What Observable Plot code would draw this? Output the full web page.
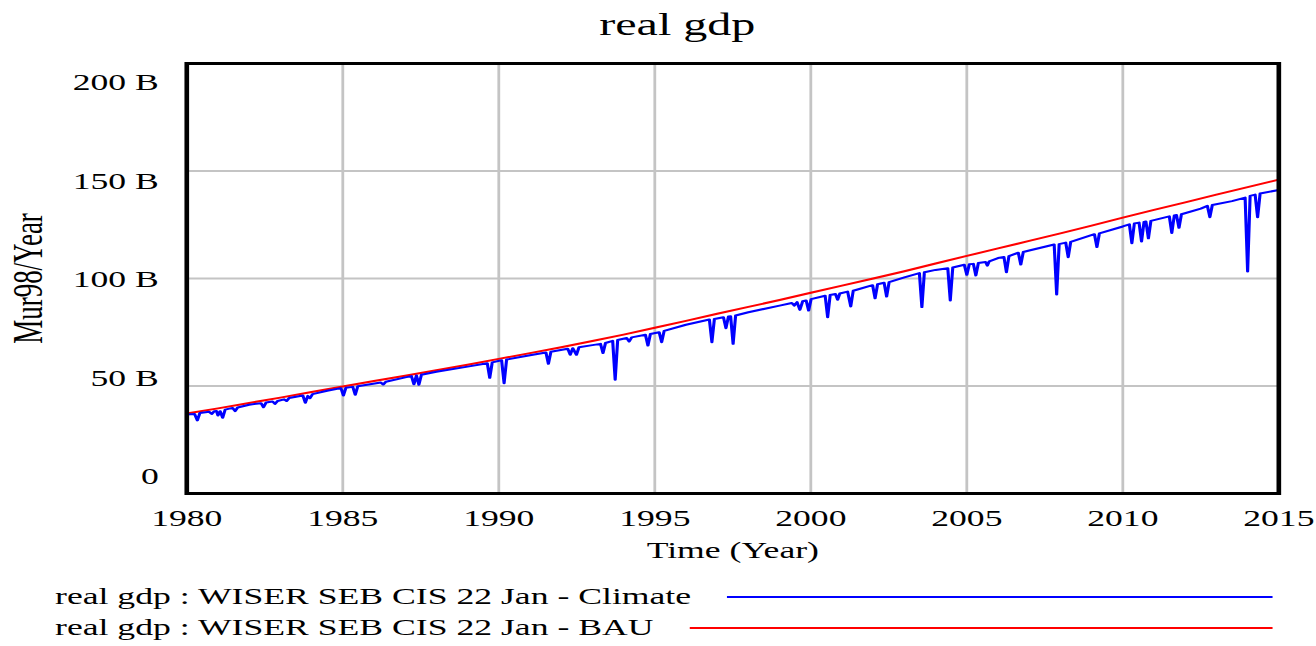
<!DOCTYPE html>
<html><head><meta charset="utf-8">
<script src="https://cdn.jsdelivr.net/npm/d3@7"></script>
<script src="https://cdn.jsdelivr.net/npm/@observablehq/plot@0.6"></script>
<style>
body{margin:0;background:#fff;width:1316px;height:646px;overflow:hidden;font-family:"Liberation Serif","Times New Roman",serif;color:#000}
#title{height:50px;width:849px;transform:scaleX(1.55);transform-origin:0 0;text-align:center;font-size:31px;line-height:50px;padding-left:25px;box-sizing:border-box}
#chart{height:525px;width:1316px}
#legend{width:849px;transform:scaleX(1.55);transform-origin:0 0;padding:6px 28px 0 35.5px;box-sizing:border-box}
.row{display:flex;align-items:center;height:31px;font-size:23px;white-space:nowrap}
.sw{flex:1;height:2px;margin-left:23px}
</style></head>
<body>
<div id="title"></div>
<div id="chart"></div>
<div id="legend"></div>
<script>
const titleText = "real gdp";
const xLabel = "Time (Year)";
const yLabel = "Mur98/Year";
const xTicks = [1980, 1985, 1990, 1995, 2000, 2005, 2010, 2015];
const yTicks = [0, 50, 100, 150, 200];
const yTickLabels = ["0", "50 B", "100 B", "150 B", "200 B"];
const seriesNames = ["real gdp : WISER SEB CIS 22 Jan - Climate", "real gdp : WISER SEB CIS 22 Jan - BAU"];
const seriesColors = ["#0000ff", "#ff0000"];

// BAU (red), annual readings, Mur98/Year (billions)
const bauYears = [1980,1981,1982,1983,1984,1985,1986,1987,1988,1989,1990,1991,1992,1993,1994,1995,1996,1997,1998,1999,2000,2001,2002,2003,2004,2005,2006,2007,2008,2009,2010,2011,2012,2013,2014,2015];
const bauValues = [37.2,39.6,42.1,44.6,47.2,49.8,52.3,54.8,57.3,59.9,62.6,65.3,68.0,70.9,73.9,77.1,80.3,83.6,86.8,90.0,93.4,96.7,100.0,103.4,107.0,110.5,114.0,117.5,121.0,124.6,128.3,131.9,135.4,139.0,142.5,146.0];

// Climate (blue), readings incl. shock dips
const climateTimes = [
1980.00,1980.25,1980.34,1980.42,1980.72,1980.80,1980.88,1980.95,1981.00,1981.07,1981.15,1981.23,
1981.47,1981.55,1981.63,1982.00,1982.38,1982.46,1982.54,1982.75,1982.83,1982.91,1983.12,1983.20,1983.28,
1983.72,1983.80,1983.88,1983.95,1984.03,1984.50,1984.94,1985.02,1985.10,1985.32,1985.40,1985.48,
1986.22,1986.30,1986.38,1987.00,1987.20,1987.28,1987.36,1987.44,1987.52,1988.00,1989.00,
1989.63,1989.71,1989.79,1990.09,1990.17,1990.25,1991.00,1991.51,1991.59,1991.67,
1992.21,1992.29,1992.37,1992.49,1992.57,1993.00,1993.26,1993.34,1993.42,1993.65,1993.73,1993.81,
1994.10,1994.18,1994.26,1994.70,1994.78,1994.86,1995.14,1995.22,1995.30,1996.00,
1996.75,1996.83,1996.91,1997.20,1997.28,1997.36,1997.43,1997.51,1997.59,1998.00,1999.00,
1999.39,1999.47,1999.56,1999.65,1999.74,1999.85,1999.93,2000.01,
2000.46,2000.54,2000.62,2000.79,2000.86,2000.93,2001.18,2001.28,2001.36,
2001.98,2002.06,2002.14,2002.35,2002.43,2002.51,2003.00,
2003.48,2003.56,2003.64,2004.00,2004.39,2004.47,2004.55,
2004.92,2005.00,2005.08,2005.21,2005.29,2005.37,2005.60,2005.66,2005.72,
2006.00,2006.19,2006.27,2006.35,2006.65,2006.73,2006.81,2007.00,
2007.80,2007.88,2007.96,2008.17,2008.25,2008.33,2009.09,2009.17,2009.25,
2010.00,2010.21,2010.29,2010.37,2010.52,2010.60,2010.68,2010.74,2010.82,2010.90,
2011.49,2011.57,2011.65,2011.72,2011.80,2011.88,2012.50,2012.71,2012.79,2012.87,
2013.50,2013.92,2014.00,2014.08,2014.24,2014.32,2014.40,2015.00];
const climateValues = [
36.8,37.0,34.0,37.4,38.0,37.0,38.3,38.4,36.3,38.3,35.2,39.0,
39.8,38.3,40.0,41.3,42.0,40.1,42.3,42.8,41.7,43.0,43.8,43.0,44.4,
45.6,42.2,45.4,44.3,46.2,47.8,49.0,45.6,49.2,49.6,45.9,49.9,
51.6,50.7,52.0,54.0,54.6,50.8,54.9,50.6,55.2,56.6,59.0,
60.6,53.8,61.0,62.0,51.3,62.3,64.3,65.6,60.3,65.9,
67.3,64.5,67.6,64.5,68.0,69.0,69.6,65.3,70.0,71.0,52.9,71.4,
72.3,70.7,72.6,73.8,68.8,74.2,75.0,70.4,75.6,78.5,
80.9,70.4,81.2,82.0,76.9,82.3,82.4,69.6,82.8,84.3,87.4,
88.6,87.4,89.0,85.4,89.4,89.8,85.1,90.4,
92.0,82.0,92.3,92.8,90.1,93.0,93.9,87.0,94.3,
96.9,90.8,97.3,98.0,91.6,98.3,100.5,
102.5,86.7,102.9,104.0,104.8,89.8,105.1,
106.4,101.7,106.6,106.8,101.4,107.2,107.7,106.0,108.0,
109.5,110.0,102.9,110.4,112.0,106.5,112.3,113.0,
115.8,92.6,116.0,116.7,109.9,117.0,120.6,114.6,121.0,
124.2,125.2,116.4,125.6,126.0,117.2,126.3,126.5,118.7,126.8,
128.9,121.2,129.3,129.5,123.6,129.9,132.5,133.8,128.5,134.2,
136.0,137.6,103.3,138.4,139.0,128.5,139.5,141.2];

const bau = bauYears.map((t, i) => ({t, v: bauValues[i]}));
const climate = climateTimes.map((t, i) => ({t, v: climateValues[i]}));

const S = 1.55;               // horizontal stretch of the original picture
const W = Math.round(1316 / S), H = 525;

document.getElementById("title").textContent = titleText;

const plot = Plot.plot({
  width: W, height: H,
  marginTop: 13, marginBottom: 82, marginLeft: 120, marginRight: W - 1278 / S,
  x: {domain: [1980, 2015], axis: null},
  y: {domain: [0, 200], axis: null},
  style: {fontFamily: "Liberation Serif, Times New Roman, serif", fontSize: "23px", color: "#000", background: "#fff", overflow: "visible"},
  marks: [
    Plot.gridX(xTicks, {stroke: "#c4c4c4", strokeOpacity: 1, strokeWidth: 1.8}),
    Plot.gridY(yTicks, {stroke: "#c4c4c4", strokeOpacity: 1, strokeWidth: 2}),
    Plot.line(bau, {x: "t", y: "v", stroke: seriesColors[1], strokeWidth: 2}),
    Plot.line(climate, {x: "t", y: "v", stroke: seriesColors[0], strokeWidth: 2}),
    Plot.frame({stroke: "#000", strokeWidth: 3}),
    ...yTicks.map((v, i) => Plot.text([v], {
      y: d => d, frameAnchor: "left", dx: -18, dy: -16.5 + 36 * v / 200,
      textAnchor: "end", text: () => yTickLabels[i], fontSize: 23, fill: "#000"
    })),
    Plot.text(xTicks, {x: d => d, frameAnchor: "bottom", dy: 32, text: d => String(d), fontSize: 23, fill: "#000"}),
    Plot.text([xLabel], {frameAnchor: "bottom", dy: 64, text: d => d, fontSize: 23, fill: "#000"}),
    Plot.text([yLabel], {frameAnchor: "left", dx: -102, rotate: -90, textAnchor: "middle", text: d => d, fontSize: 27, fill: "#000"})
  ]
});
plot.setAttribute("width", 1316);
plot.setAttribute("height", H);
plot.setAttribute("preserveAspectRatio", "none");
plot.style.width = "1316px";
plot.style.height = H + "px";
plot.style.maxWidth = "none";
document.getElementById("chart").appendChild(plot);

const legend = document.getElementById("legend");
seriesNames.forEach((name, i) => {
  const row = document.createElement("div");
  row.className = "row";
  const label = document.createElement("span");
  label.textContent = name;
  const sw = document.createElement("span");
  sw.className = "sw";
  sw.style.background = seriesColors[i];
  row.appendChild(label);
  row.appendChild(sw);
  legend.appendChild(row);
});
</script>
</body></html>
